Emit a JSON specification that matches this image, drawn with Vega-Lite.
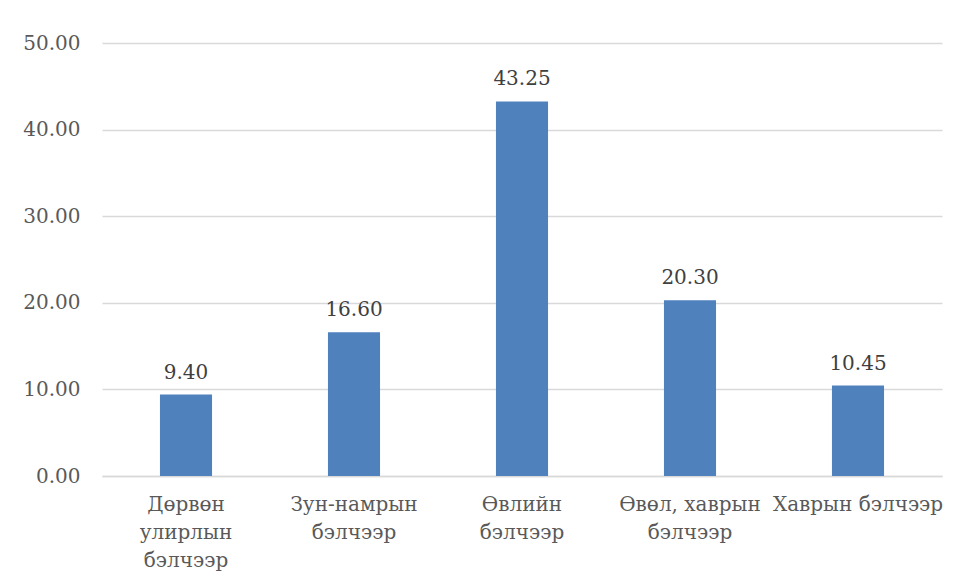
{
  "$schema": "https://vega.github.io/schema/vega-lite/v6.json",
  "autosize": "none",
  "width": 840,
  "height": 433,
  "padding": {"left": 102, "top": 43, "right": 14, "bottom": 107},
  "background": "white",
  "data": {
    "values": [
      {"category": "Дөрвөн улирлын бэлчээр", "value": 9.40},
      {"category": "Зун-намрын бэлчээр", "value": 16.60},
      {"category": "Өвлийн бэлчээр", "value": 43.25},
      {"category": "Өвөл, хаврын бэлчээр", "value": 20.30},
      {"category": "Хаврын бэлчээр", "value": 10.45}
    ]
  },
  "config": {
    "font": "DejaVu Serif",
    "view": {"stroke": null},
    "axis": {"labelFont": "DejaVu Serif", "labelFontSize": 20, "labelColor": "#595959"}
  },
  "encoding": {
    "x": {
      "field": "category", "type": "nominal", "sort": null,
      "scale": {"paddingInner": 0.69, "paddingOuter": 0.345},
      "axis": {
        "title": null, "labelAngle": 0, "ticks": false, "domainColor": "#D9D9D9", "domainWidth": 1.5,
        "labelPadding": 18, "labelBaseline": "top", "labelLineHeight": 28,
        "labelExpr": "datum.value == 'Дөрвөн улирлын бэлчээр' ? ['Дөрвөн','улирлын','бэлчээр'] : datum.value == 'Зун-намрын бэлчээр' ? ['Зун-намрын','бэлчээр'] : datum.value == 'Өвлийн бэлчээр' ? ['Өвлийн','бэлчээр'] : datum.value == 'Өвөл, хаврын бэлчээр' ? ['Өвөл, хаврын','бэлчээр'] : datum.value"
      }
    },
    "y": {
      "field": "value", "type": "quantitative",
      "scale": {"domain": [0, 50], "nice": false},
      "axis": {
        "title": null, "values": [0, 10, 20, 30, 40, 50], "format": ".2f",
        "domain": false, "ticks": false, "labelPadding": 22,
        "gridColor": "#D9D9D9", "gridWidth": 1.5
      }
    }
  },
  "layer": [
    {"mark": {"type": "bar", "color": "#4F81BD"}},
    {
      "mark": {"type": "text", "fontSize": 20, "color": "#404040", "baseline": "alphabetic", "dy": -16, "font": "DejaVu Serif"},
      "encoding": {"text": {"field": "value", "type": "quantitative", "format": ".2f"}}
    }
  ]
}
